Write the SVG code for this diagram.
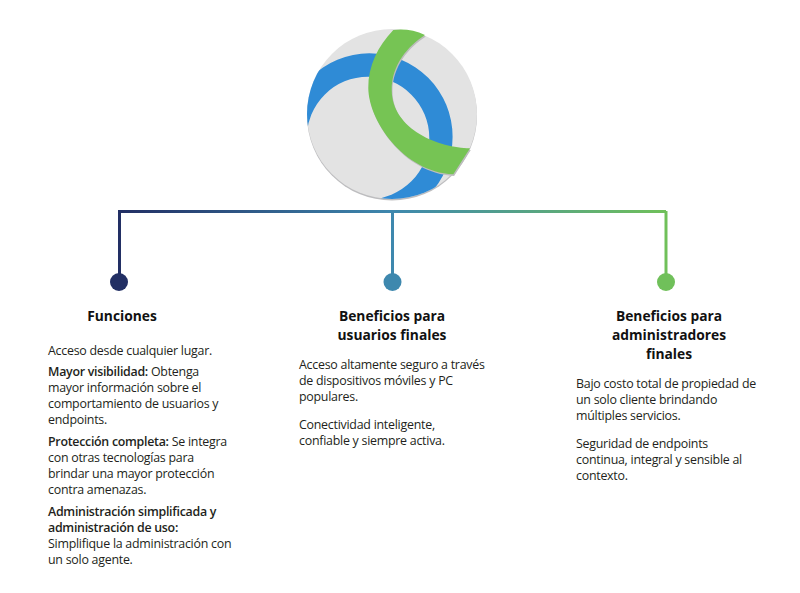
<svg xmlns="http://www.w3.org/2000/svg" width="800" height="593" viewBox="0 0 800 593">
<style>
text{font-family:"Open Sans","Noto Sans","Liberation Sans",sans-serif;fill:#231f20}
.b{font-size:12.4px;letter-spacing:-.25px}
.h{font-size:13.8px;font-weight:700;text-anchor:middle;fill:#111}
.s{font-weight:600;letter-spacing:-.28px}
.c{fill:none;stroke-width:3}
</style>
<defs>
<linearGradient id="g" gradientUnits="userSpaceOnUse" x1="119" y1="0" x2="666" y2="0">
<stop offset="0" stop-color="#222f64"/><stop offset=".5" stop-color="#3e88ae"/><stop offset="1" stop-color="#70c05a"/>
</linearGradient>
<clipPath id="cc"><circle cx="392" cy="114" r="85"/></clipPath>
<path id="gp" d="M393.300 30C378 46 368 66 368.300 88C368.500 120 403 172 453.300 174.300L470 148.300C440 148 392 130 391.700 90C391.500 65 408 46 425 35Q410 28 393.300 30Z"/>
</defs>
<rect width="800" height="593" fill="#fff"/>
<g id="logo">
<circle cx="392" cy="115.500" r="85" fill="#bdbdbf"/>
<circle cx="392" cy="114" r="85" fill="#e3e3e3"/>
<path clip-path="url(#cc)" fill-rule="evenodd" fill="#2f8bd6" d="M286 136.700a83.300 83.300 0 1 0 166.600 0a83.300 83.300 0 1 0-166.600 0ZM306.700 138a61.300 61.300 0 1 0 122.600 0a61.300 61.300 0 1 0-122.600 0Z"/>
<use href="#gp" fill="#bdbdbd" transform="translate(.8 1.600)"/>
<use href="#gp" fill="#76c454"/>
</g>
<g id="connectors">
<path class="c" stroke="url(#g)" d="M119 211.500H666"/>
<path class="c" stroke="#222f64" d="M119.500 210V282"/>
<path class="c" stroke="#3e88ae" d="M392.500 211V282"/>
<path class="c" stroke="#70c05a" d="M666 211V282"/>
</g>
<g id="node-funciones">
<circle cx="119" cy="282" r="9" fill="#222f64"/>
<text class="h" x="122" y="321">Funciones</text>
<text class="b" x="48" y="354.500">Acceso desde cualquier lugar.</text>
<text class="b" x="48" y="376"><tspan class="s">Mayor visibilidad:</tspan> Obtenga</text>
<text class="b" x="48" y="392">mayor información sobre el</text>
<text class="b" x="48" y="408">comportamiento de usuarios y</text>
<text class="b" x="48" y="424">endpoints.</text>
<text class="b" x="48" y="446"><tspan class="s">Protección completa:</tspan> Se integra</text>
<text class="b" x="48" y="462">con otras tecnologías para</text>
<text class="b" x="48" y="478">brindar una mayor protección</text>
<text class="b" x="48" y="494">contra amenazas.</text>
<text class="b s" x="48" y="516">Administración simplificada y</text>
<text class="b s" x="48" y="532">administración de uso:</text>
<text class="b" x="48" y="548">Simplifique la administración con</text>
<text class="b" x="48" y="564">un solo agente.</text>
</g>
<g id="node-usuarios">
<circle cx="392.500" cy="282" r="9" fill="#3e88ae"/>
<text class="h" x="392" y="321">Beneficios para</text>
<text class="h" x="392" y="340">usuarios finales</text>
<text class="b" x="299" y="369">Acceso altamente seguro a través</text>
<text class="b" x="299" y="385">de dispositivos móviles y PC</text>
<text class="b" x="299" y="401">populares.</text>
<text class="b" x="299" y="429">Conectividad inteligente,</text>
<text class="b" x="299" y="445">confiable y siempre activa.</text>
</g>
<g id="node-administradores">
<circle cx="666" cy="282" r="9" fill="#70c05a"/>
<text class="h" x="669" y="321">Beneficios para</text>
<text class="h" x="669" y="340">administradores</text>
<text class="h" x="669" y="359">finales</text>
<text class="b" x="576" y="388">Bajo costo total de propiedad de</text>
<text class="b" x="576" y="404">un solo cliente brindando</text>
<text class="b" x="576" y="420">múltiples servicios.</text>
<text class="b" x="576" y="448">Seguridad de endpoints</text>
<text class="b" x="576" y="464">continua, integral y sensible al</text>
<text class="b" x="576" y="480">contexto.</text>
</g>
</svg>
